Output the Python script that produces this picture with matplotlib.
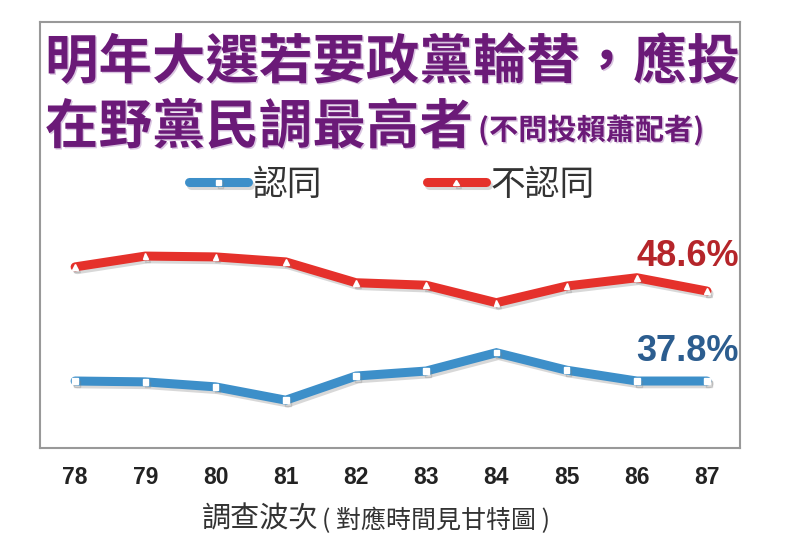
import matplotlib.pyplot as plt
import matplotlib.patheffects as pe

plt.rcParams['font.family'] = ['Noto Sans CJK TC', 'DejaVu Sans']

# 調查波次
waves = [78, 79, 80, 81, 82, 83, 84, 85, 86, 87]
# 認同 / 不認同 (%)
agree = [37.8, 37.7, 37.1, 35.5, 38.4, 39.0, 41.2, 39.1, 37.8, 37.8]
disagree = [51.5, 52.8, 52.7, 52.1, 49.6, 49.3, 47.2, 49.2, 50.2, 48.6]

blue = '#3d8fc9'
red = '#e5312b'
purple = '#6b1a78'

fig = plt.figure(figsize=(8.02, 5.44), dpi=100)
ax = fig.add_axes([40 / 802, 1 - 448 / 544, 700 / 802, 426 / 544])

shadow = [pe.SimpleLineShadow(offset=(1.5, -2), shadow_color='gray', alpha=0.3), pe.Normal()]

ax.plot(waves, agree, color=blue, lw=6.5, solid_joinstyle='miter', solid_capstyle='round',
        marker='s', ms=4, mfc='white', mec='white', label='認同', path_effects=shadow)
ax.plot(waves, disagree, color=red, lw=6.5, solid_joinstyle='miter', solid_capstyle='round',
        marker='^', ms=4, mfc='white', mec='white', label='不認同', path_effects=shadow)

ax.set_xlim(77.5, 87.47)
ax.set_ylim(29.76, 80.9)
ax.set_yticks([])
ax.set_xticks(waves)
ax.set_xticklabels([str(w) for w in waves], fontsize=16.5, fontweight='bold', color='#222222',
                   family=['Liberation Sans', 'DejaVu Sans'])
ax.tick_params(axis='x', length=0, pad=13)
for s in ax.spines.values():
    s.set_color('#999999')
    s.set_linewidth(1.5)

# end labels
ax.annotate(f'{disagree[-1]}%', xy=(87, disagree[-1]), xytext=(23, 25), textcoords='offset points',
            ha='right', va='center', fontsize=26, fontweight='bold', color='#b5252a',
            family=['Liberation Sans', 'DejaVu Sans'])
ax.annotate(f'{agree[-1]}%', xy=(87, agree[-1]), xytext=(23, 21), textcoords='offset points',
            ha='right', va='center', fontsize=26, fontweight='bold', color='#2c5d8f',
            family=['Liberation Sans', 'DejaVu Sans'])

# title inside the frame
title_fx = [pe.withSimplePatchShadow(offset=(1, -1), shadow_rgbFace='#b58cc2', alpha=0.5)]
fig.text(45 / 802, 1 - 63 / 544, '明年大選若要政黨輪替，應投', fontsize=38.5, fontweight='bold',
         color=purple, va='center', ha='left', path_effects=title_fx)
fig.text(45 / 802, 1 - 128 / 544, '在野黨民調最高者', fontsize=38.5, fontweight='bold',
         color=purple, va='center', ha='left', path_effects=title_fx)
fig.text(478 / 802, 1 - 130 / 544, '(不問投賴蕭配者)', fontsize=21, fontweight='bold',
         color=purple, va='center', ha='left', path_effects=title_fx)

# legend
ax.legend(loc='center', bbox_to_anchor=(352 / 700, (448 - 185) / 426), ncol=2, frameon=False,
          handlelength=1.7, columnspacing=3.0, handletextpad=0.15, labelcolor='#333333',
          prop={'size': 25})

fig.text(202 / 802, 1 - 520 / 544, '調查波次', fontsize=21, color='#333333',
         ha='left', va='center')
fig.text(322 / 802, 1 - 521 / 544, '( 對應時間見甘特圖 )', fontsize=18, color='#333333',
         ha='left', va='center')

fig.savefig('out.png', dpi=100)
